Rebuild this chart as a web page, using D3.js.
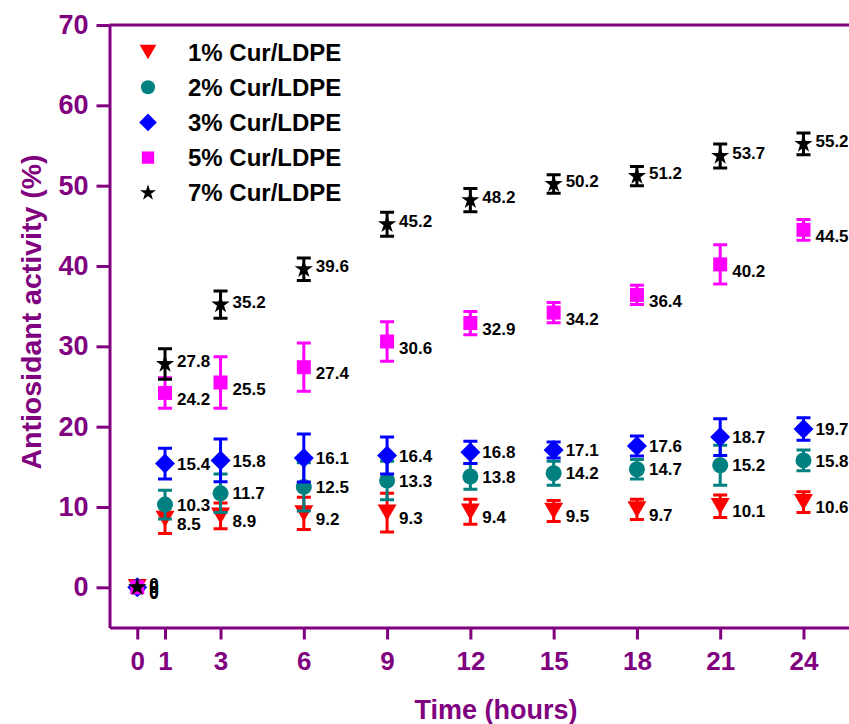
<!DOCTYPE html>
<html>
<head>
<meta charset="utf-8">
<script src="https://cdn.jsdelivr.net/npm/d3@7"></script>
<style>
    body { margin: 0; background: #fff; }
    svg { display: block; font-family: Arial, "Liberation Sans", sans-serif; font-weight: bold; }
</style>
</head>
<body>
<div id="chart"></div>
<script>
"use strict";

// sampling times (hours)
const times = [0, 1, 3, 6, 9, 12, 15, 18, 21, 24];

// antioxidant activity (%) per film, with standard deviations
const cur1 = [0, 8.5, 8.9, 9.2, 9.3, 9.4, 9.5, 9.7, 10.1, 10.6];
const sd1 = [0, 1.8, 1.6, 2.0, 2.4, 1.55, 1.3, 1.25, 1.4, 1.3];
const cur2 = [0, 10.3, 11.7, 12.5, 13.3, 13.8, 14.2, 14.7, 15.2, 15.8];
const sd2 = [0, 1.8, 2.4, 3.0, 2.4, 1.6, 1.5, 1.2, 2.5, 1.3];
const cur3 = [0, 15.4, 15.8, 16.1, 16.4, 16.8, 17.1, 17.6, 18.7, 19.7];
const sd3 = [0, 1.9, 2.65, 3.0, 2.3, 1.4, 1.0, 1.25, 2.3, 1.4];
const cur5 = [0, 24.2, 25.5, 27.4, 30.6, 32.9, 34.2, 36.4, 40.2, 44.5];
const sd5 = [0, 1.9, 3.2, 3.0, 2.45, 1.45, 1.25, 1.2, 2.45, 1.3];
const cur7 = [0, 27.8, 35.2, 39.6, 45.2, 48.2, 50.2, 51.2, 53.7, 55.2];
const sd7 = [0, 1.9, 1.7, 1.4, 1.5, 1.45, 1.15, 1.2, 1.5, 1.35];

const seriesNames = ["1% Cur/LDPE", "2% Cur/LDPE", "3% Cur/LDPE", "5% Cur/LDPE", "7% Cur/LDPE"];

// axis ticks
const xMajorTicks = [0, 1, 3, 6, 9, 12, 15, 18, 21, 24];
const xMinorTicks = [2, 4.5, 7.5, 10.5, 13.5, 16.5, 19.5, 22.5, 25.5];
const yMajorTicks = [0, 10, 20, 30, 40, 50, 60, 70];
const yMinorTicks = [5, 15, 25, 35, 45, 55, 65];

const width = 849, height = 724;
const purple = "#800080";

// custom marker shapes, size = outer width in px
const triangleDown = {
    draw(ctx, s) {
        const w = s / 2, h = s * 0.866 / 2;
        ctx.moveTo(-w, -h); ctx.lineTo(w, -h); ctx.lineTo(0, h); ctx.closePath();
    }
};
const diamond = {
    draw(ctx, s) {
        const r = s / 2;
        ctx.moveTo(0, -r); ctx.lineTo(r, 0); ctx.lineTo(0, r); ctx.lineTo(-r, 0); ctx.closePath();
    }
};
const square = {
    draw(ctx, s) {
        const r = s / 2;
        ctx.rect(-r, -r, s, s);
    }
};
const circle = {
    draw(ctx, s) {
        const r = s / 2;
        ctx.moveTo(r, 0); ctx.arc(0, 0, r, 0, 2 * Math.PI);
    }
};
const star = {
    draw(ctx, s) {
        d3.symbolStar.draw(ctx, s * s * 0.36);
    }
};

// table built from the arrays above
const series = [
    { name: seriesNames[0], values: cur1, sd: sd1, color: "#ff0000", shape: triangleDown, size: 19, dy: 5 },
    { name: seriesNames[1], values: cur2, sd: sd2, color: "#008080", shape: circle, size: 16, dy: 0 },
    { name: seriesNames[2], values: cur3, sd: sd3, color: "#0000ff", shape: diamond, size: 20, dy: 0 },
    { name: seriesNames[3], values: cur5, sd: sd5, color: "#ff00ff", shape: square, size: 14, dy: 6 },
    { name: seriesNames[4], values: cur7, sd: sd7, color: "#000000", shape: star, size: 17, dy: -3 }
];

const x = d3.scaleLinear().domain([-1, 26]).range([109.5, 859]);
const y = d3.scaleLinear().domain([-5, 70]).range([627.5, 25]);

const svg = d3.select("#chart")
    .append("svg")
    .attr("width", width)
    .attr("height", height);

// frame top / right
svg.append("path")
    .attr("d", `M${x(-1)},${y(70)}H${x(26)}V${y(-5)}`)
    .attr("fill", "none")
    .attr("stroke", purple)
    .attr("stroke-width", 3);

// x axis
const xAxisG = svg.append("g").attr("transform", `translate(0,${y(-5)})`);
xAxisG.call(d3.axisBottom(x).tickValues(xMinorTicks).tickSize(7).tickSizeOuter(0).tickFormat(""));
xAxisG.call(d3.axisBottom(x).tickValues(xMajorTicks).tickSize(12).tickSizeOuter(0).tickPadding(12).tickFormat(d3.format("d")));

// y axis
const yAxisG = svg.append("g").attr("transform", `translate(${x(-1)},0)`);
yAxisG.call(d3.axisLeft(y).tickValues(yMinorTicks).tickSize(7).tickSizeOuter(0).tickFormat(""));
yAxisG.call(d3.axisLeft(y).tickValues(yMajorTicks).tickSize(13).tickSizeOuter(0).tickPadding(8).tickFormat(d3.format("d")));

svg.selectAll(".domain, .tick line")
    .attr("stroke", purple)
    .attr("stroke-width", 3);
xAxisG.selectAll("text").attr("fill", purple).attr("font-size", 26).attr("font-weight", "bold").attr("font-family", null);
yAxisG.selectAll("text").attr("fill", purple).attr("font-size", 27).attr("font-weight", "bold").attr("font-family", null);

// axis titles
svg.append("text")
    .attr("x", 496)
    .attr("y", 719)
    .attr("text-anchor", "middle")
    .attr("fill", purple)
    .attr("font-size", 27)
    .text("Time (hours)");

svg.append("text")
    .attr("transform", "translate(41,312) rotate(-90)")
    .attr("text-anchor", "middle")
    .attr("fill", purple)
    .attr("font-size", 28.5)
    .text("Antiosidant activity (%)");

// plot each series: error bars, markers, value labels
const capW = 7;
series.forEach((s) => {
    const g = svg.append("g");
    const pts = times.map((t, i) => ({ t: t, v: s.values[i], sd: s.sd[i] }));

    g.selectAll("path.err")
        .data(pts.filter((d) => d.sd > 0))
        .enter()
        .append("path")
        .attr("class", "err")
        .attr("d", (d) => {
            const cx = x(d.t), y0 = y(d.v - d.sd), y1 = y(d.v + d.sd);
            return `M${cx},${y0}V${y1}M${cx - capW},${y1}H${cx + capW}M${cx - capW},${y0}H${cx + capW}`;
        })
        .attr("fill", "none")
        .attr("stroke", s.color)
        .attr("stroke-width", 3);

    g.selectAll("path.mark")
        .data(pts)
        .enter()
        .append("path")
        .attr("class", "mark")
        .attr("transform", (d) => `translate(${x(d.t)},${y(d.v)})`)
        .attr("d", d3.symbol().type(s.shape).size(s.size))
        .attr("fill", s.color);

    g.selectAll("text")
        .data(pts)
        .enter()
        .append("text")
        .attr("x", (d) => x(d.t) + 12)
        .attr("y", (d) => y(d.v) + s.dy)
        .attr("dy", "0.36em")
        .attr("font-size", 17)
        .attr("fill", "#000")
        .text((d) => d.v);
});

// legend
const legend = svg.append("g");
series.forEach((s, i) => {
    const ly = 52 + i * 35.2;
    legend.append("path")
        .attr("transform", `translate(148,${ly})`)
        .attr("d", d3.symbol().type(s.shape).size(s.size * 0.88))
        .attr("fill", s.color);
    legend.append("text")
        .attr("x", 188)
        .attr("y", ly)
        .attr("dy", "0.36em")
        .attr("font-size", 24)
        .attr("fill", "#000")
        .text(s.name);
});
</script>
</body>
</html>
